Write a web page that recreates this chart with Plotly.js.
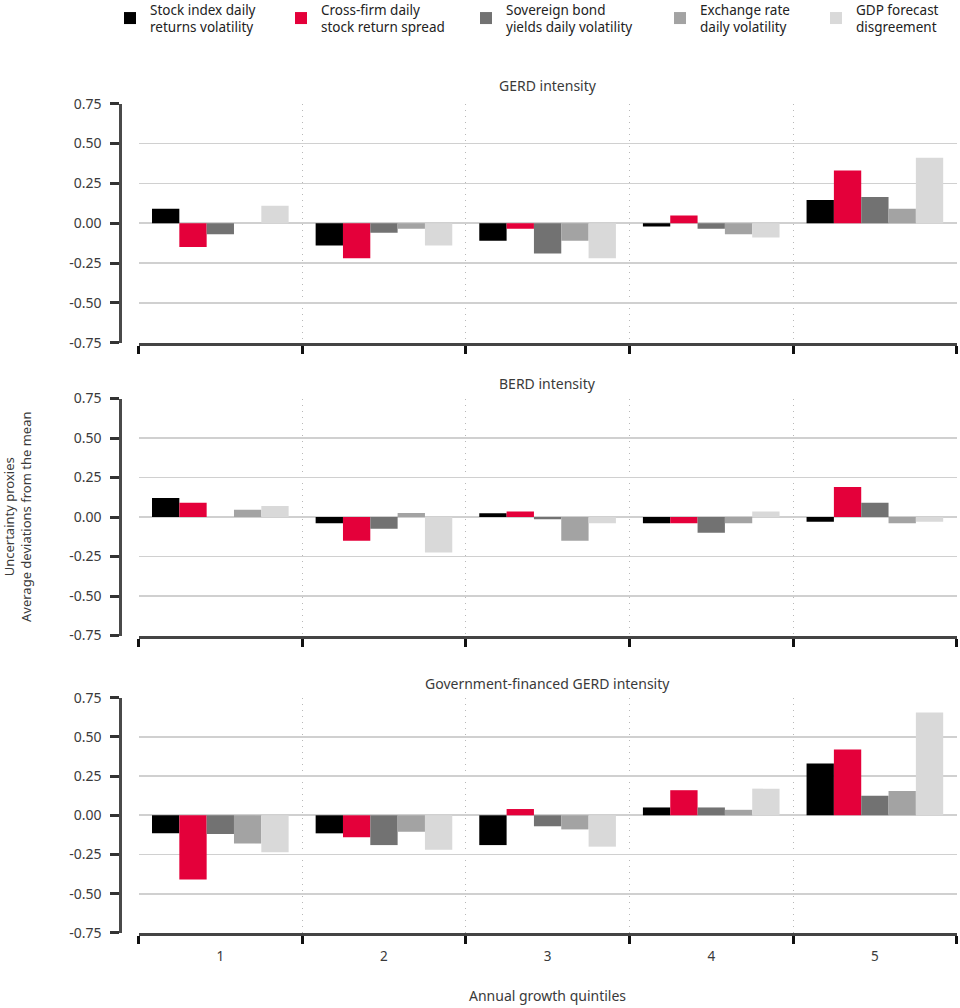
<!DOCTYPE html>
<html>
<head>
<meta charset="utf-8">
<script src="https://cdn.plot.ly/plotly-3.0.1.min.js"></script>
<style>
  html, body { margin: 0; padding: 0; background: #ffffff; }
  #chart { width: 960px; height: 1008px; }
</style>
</head>
<body>
<div id="chart"></div>
<script>
// ---- Data ----
const quintiles = [1, 2, 3, 4, 5];
const quintileLabels = ['1', '2', '3', '4', '5'];
const quintileBounds = [0.5, 1.5, 2.5, 3.5, 4.5, 5.5];

const seriesNames = [
  'Stock index daily<br>returns volatility',
  'Cross-firm daily<br>stock return spread',
  'Sovereign bond<br>yields daily volatility',
  'Exchange rate<br>daily volatility',
  'GDP forecast<br>disgreement'
];
const seriesColors = ['#000000', '#e4003a', '#727272', '#a3a3a3', '#d9d9d9'];

const panelTitles = ['GERD intensity', 'BERD intensity', 'Government-financed GERD intensity'];

// Panel 1: GERD intensity
const gerdStock = [0.09, -0.14, -0.11, -0.02, 0.145];
const gerdCross = [-0.15, -0.22, -0.035, 0.048, 0.33];
const gerdSov   = [-0.07, -0.06, -0.19, -0.035, 0.165];
const gerdFx    = [0.0, -0.035, -0.11, -0.07, 0.09];
const gerdGdp   = [0.11, -0.14, -0.22, -0.09, 0.41];

// Panel 2: BERD intensity
const berdStock = [0.12, -0.04, 0.023, -0.04, -0.03];
const berdCross = [0.09, -0.15, 0.035, -0.04, 0.19];
const berdSov   = [0.0, -0.075, -0.015, -0.10, 0.09];
const berdFx    = [0.046, 0.025, -0.15, -0.04, -0.04];
const berdGdp   = [0.07, -0.225, -0.04, 0.035, -0.03];

// Panel 3: Government-financed GERD intensity
const govStock = [-0.115, -0.115, -0.19, 0.05, 0.33];
const govCross = [-0.41, -0.14, 0.04, 0.16, 0.42];
const govSov   = [-0.12, -0.19, -0.07, 0.05, 0.125];
const govFx    = [-0.18, -0.105, -0.09, 0.035, 0.155];
const govGdp   = [-0.235, -0.22, -0.20, 0.17, 0.655];

const yTickVals = [-0.75, -0.5, -0.25, 0, 0.25, 0.5, 0.75];
const yTickText = ['-0.75', '-0.50', '-0.25', '0.00', '0.25', '0.50', '0.75'];

const yTitleLines = ['Uncertainty proxies', 'Average deviations from the mean'];
const xTitle = 'Annual growth quintiles';

const panels = [
  [gerdStock, gerdCross, gerdSov, gerdFx, gerdGdp],
  [berdStock, berdCross, berdSov, berdFx, berdGdp],
  [govStock, govCross, govSov, govFx, govGdp]
];

// ---- Build ----
const FONT = 'Noto Sans, sans-serif';
const TXT = '#3a3a3a';
const traces = [];
panels.forEach((series, p) => {
  series.forEach((vals, s) => {
    const t = {
      type: 'bar',
      x: quintiles,
      y: vals,
      name: seriesNames[s],
      marker: { color: seriesColors[s], line: { width: 0 } },
      xaxis: p === 0 ? 'x' : 'x' + (p + 1),
      yaxis: p === 0 ? 'y' : 'y' + (p + 1),
      showlegend: p === 0,
      hoverinfo: 'skip'
    };
    if (p === 0) t.legend = s === 0 ? 'legend' : 'legend' + (s + 1);
    traces.push(t);
  });
});

const W = 960, H = 1008;
const xDom = [138.5 / W, 956.7 / W];
const yDoms = [
  [1 - 342.7 / H, 1 - 103.7 / H],
  [1 - 635.5 / H, 1 - 398.5 / H],
  [1 - 932.9 / H, 1 - 697.7 / H]
];
const titleY = [85, 383, 683];

const layout = {
  width: W, height: H,
  margin: { l: 0, r: 0, t: 0, b: 0, autoexpand: false },
  paper_bgcolor: '#ffffff',
  plot_bgcolor: '#ffffff',
  font: { family: FONT, size: 13, color: TXT },
  barmode: 'group',
  bargap: 0.165,
  bargroupgap: 0,
  annotations: [],
  showlegend: true
};

for (let p = 0; p < 3; p++) {
  const xk = p === 0 ? 'xaxis' : 'xaxis' + (p + 1);
  const yk = p === 0 ? 'yaxis' : 'yaxis' + (p + 1);
  const yname = p === 0 ? 'y' : 'y' + (p + 1);
  layout[xk] = {
    domain: xDom,
    anchor: yname,
    range: [0.5, 5.5],
    tickmode: 'array',
    tickvals: quintiles,
    ticktext: quintileLabels,
    showticklabels: p === 2,
    ticks: '',
    ticklabelstandoff: 9,
    tickfont: { family: FONT, size: 13.5, color: TXT },
    showgrid: false,
    zeroline: false,
    showline: true,
    linecolor: '#444444',
    linewidth: 3,
    minor: {
      tickmode: 'array',
      tickvals: quintileBounds,
      ticks: 'outside',
      ticklen: 8,
      tickwidth: 3,
      tickcolor: '#111111',
      showgrid: true,
      gridcolor: '#b8b8b8',
      gridwidth: 1,
      griddash: '1px,5px'
    },
    fixedrange: true
  };
  layout[yk] = {
    domain: yDoms[p],
    anchor: 'free',
    position: 120.3 / W,
    range: [-0.75, 0.75],
    tickmode: 'array',
    tickvals: yTickVals,
    ticktext: yTickText,
    ticks: 'outside',
    ticklen: 9,
    tickwidth: 3,
    tickcolor: '#333333',
    tickfont: { family: FONT, size: 14, color: TXT },
    ticklabelstandoff: 6,
    showline: true,
    linecolor: '#4a4a4a',
    linewidth: 3,
    showgrid: true,
    gridcolor: '#d0d0d0',
    gridwidth: 1.6,
    zeroline: false,
    fixedrange: true
  };
  layout.annotations.push({
    text: panelTitles[p],
    xref: 'paper', yref: 'paper',
    x: (xDom[0] + xDom[1]) / 2, y: 1 - titleY[p] / H,
    xanchor: 'center', yanchor: 'middle',
    showarrow: false,
    font: { family: FONT, size: 14, color: TXT }
  });
}

// axis titles
layout.annotations.push({
  text: yTitleLines.join('<br>'),
  xref: 'paper', yref: 'paper',
  x: 17 / W, y: 1 - 517 / H,
  xanchor: 'center', yanchor: 'middle',
  textangle: -90,
  showarrow: false,
  font: { family: FONT, size: 13, color: TXT }
});
layout.annotations.push({
  text: xTitle,
  xref: 'paper', yref: 'paper',
  x: (xDom[0] + xDom[1]) / 2, y: 1 - 995 / H,
  xanchor: 'center', yanchor: 'middle',
  showarrow: false,
  font: { family: FONT, size: 14, color: TXT }
});

// legends (one per series, placed along the top)
const legendTextX = [150, 321, 506, 700, 856];
legendTextX.forEach((tx, i) => {
  const k = i === 0 ? 'legend' : 'legend' + (i + 1);
  layout[k] = {
    x: (tx - 40) / W, y: 1 + 6 / H,
    xanchor: 'left', yanchor: 'top',
    orientation: 'h',
    bgcolor: 'rgba(0,0,0,0)',
    borderwidth: 0,
    font: { family: FONT, size: 13.5, color: '#222222' },
    itemclick: false, itemdoubleclick: false
  };
});

Plotly.newPlot('chart', traces, layout, { displayModeBar: false, staticPlot: true });
</script>
</body>
</html>
